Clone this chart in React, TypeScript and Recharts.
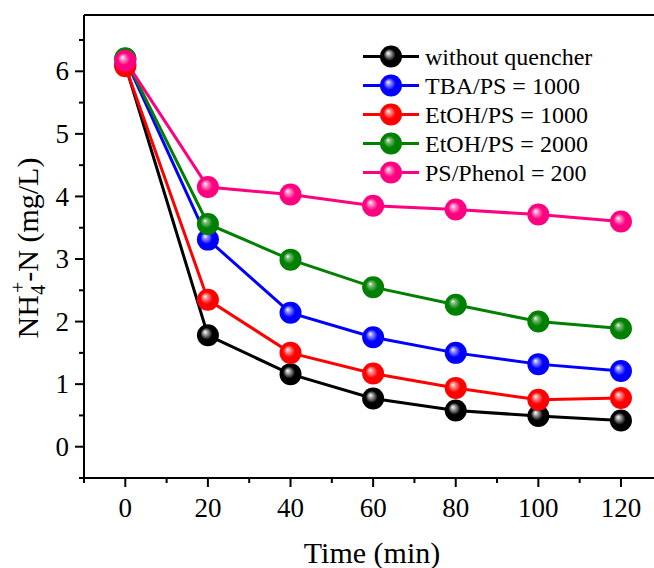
import { LineChart, Line, XAxis, YAxis, ReferenceLine } from 'recharts';

const times = [0, 20, 40, 60, 80, 100, 120];
const withoutQuencher = [6.1, 1.78, 1.16, 0.77, 0.58, 0.49, 0.42];
const tbaPs1000 = [6.2, 3.31, 2.14, 1.75, 1.5, 1.32, 1.21];
const etohPs1000 = [6.08, 2.35, 1.5, 1.17, 0.94, 0.75, 0.78];
const etohPs2000 = [6.21, 3.56, 2.99, 2.55, 2.27, 2.0, 1.89];
const psPhenol200 = [6.17, 4.15, 4.03, 3.85, 3.79, 3.71, 3.6];

const xTicks = [-10, 0, 10, 20, 30, 40, 50, 60, 70, 80, 90, 100, 110, 120];
const yTicks = [-0.5, 0, 0.5, 1, 1.5, 2, 2.5, 3, 3.5, 4, 4.5, 5, 5.5, 6, 6.5];

const series = [
    { key: 'black', name: 'without quencher', color: '#000000', light: '#b0b0b0', values: withoutQuencher },
    { key: 'blue', name: 'TBA/PS = 1000', color: '#0000ff', light: '#9a9aff', values: tbaPs1000 },
    { key: 'red', name: 'EtOH/PS = 1000', color: '#ff0000', light: '#ff9a9a', values: etohPs1000 },
    { key: 'green', name: 'EtOH/PS = 2000', color: '#008000', light: '#80c080', values: etohPs2000 },
    { key: 'pink', name: 'PS/Phenol = 200', color: '#ff0080', light: '#ff9acc', values: psPhenol200 },
];

const data = times.map((t, i) => {
    const row: Record<string, number> = { t };
    series.forEach((s) => {
        row[s.key] = s.values[i];
    });
    return row;
});

const FONT = '"Liberation Serif", "Times New Roman", serif';

function makeDot(key: string) {
    return (props: any) => {
        const { cx, cy, index } = props;
        if (cx == null || cy == null) return <g key={`${key}-${index}`} />;
        return <circle key={`${key}-${index}`} cx={cx} cy={cy} r={11} fill={`url(#grad-${key})`} />;
    };
}

function XTick(props: any) {
    const { x, y, payload } = props;
    const major = payload.value % 20 === 0 && payload.value >= 0;
    return (
        <g>
            <line x1={x} x2={x} y1={y} y2={y + (major ? 9 : 5)} stroke="#000" strokeWidth={2} />
            {major && (
                <text x={x} y={y + 39} textAnchor="middle" fontFamily={FONT} fontSize={27} fill="#000">
                    {payload.value}
                </text>
            )}
        </g>
    );
}

function YTick(props: any) {
    const { x, y, payload } = props;
    const major = Number.isInteger(payload.value);
    return (
        <g>
            <line x1={x - (major ? 9 : 5)} x2={x} y1={y} y2={y} stroke="#000" strokeWidth={2} />
            {major && (
                <text x={x - 15} y={y} dy="0.34em" textAnchor="end" fontFamily={FONT} fontSize={27} fill="#000">
                    {payload.value}
                </text>
            )}
        </g>
    );
}

export default function App() {
    return (
        <div style={{ position: 'absolute', left: 0, top: 0, width: 654, height: 568, background: '#fff' }}>
            <svg width={0} height={0} style={{ position: 'absolute' }}>
                <defs>
                    {series.map((s) => (
                        <radialGradient key={s.key} id={`grad-${s.key}`} cx="50%" cy="50%" r="50%" fx="36%" fy="34%">
                            <stop offset="0%" stopColor="#ffffff" />
                            <stop offset="18%" stopColor={s.light} />
                            <stop offset="55%" stopColor={s.color} />
                            <stop offset="100%" stopColor={s.color} />
                        </radialGradient>
                    ))}
                </defs>
            </svg>
            <LineChart width={654} height={568} data={data} margin={{ top: 15, right: 0, left: 24, bottom: 30 }}>
                <XAxis
                    dataKey="t"
                    type="number"
                    domain={[-10, 128]}
                    ticks={xTicks}
                    height={60}
                    tickSize={0}
                    tickMargin={0}
                    tickLine={false}
                    interval={0}
                    stroke="#000"
                    strokeWidth={2}
                    tick={<XTick />}
                />
                <YAxis
                    type="number"
                    domain={[-0.5, 6.9]}
                    ticks={yTicks}
                    width={60}
                    tickSize={0}
                    tickMargin={0}
                    tickLine={false}
                    interval={0}
                    stroke="#000"
                    strokeWidth={2}
                    tick={<YTick />}
                    allowDataOverflow
                />
                <ReferenceLine y={6.9} stroke="#000" strokeWidth={2} />
                {series.map((s) => (
                    <Line
                        key={s.key}
                        dataKey={s.key}
                        name={s.name}
                        stroke={s.color}
                        strokeWidth={3}
                        dot={makeDot(s.key)}
                        activeDot={false}
                        isAnimationActive={false}
                        type="linear"
                    />
                ))}
            </LineChart>
            <svg
                width={654}
                height={568}
                style={{ position: 'absolute', left: 0, top: 0, pointerEvents: 'none' }}
            >
                {series.map((s, i) => {
                    const cy = 56.5 + i * 29;
                    return (
                        <g key={s.key}>
                            <line x1={363} x2={419} y1={cy} y2={cy} stroke={s.color} strokeWidth={3} />
                            <circle cx={391} cy={cy} r={11} fill={`url(#grad-${s.key})`} />
                            <text x={425} y={cy + 8} fontFamily={FONT} fontSize={24} fill="#000">
                                {s.name}
                            </text>
                        </g>
                    );
                })}
                <text x={372} y={563} textAnchor="middle" fontFamily={FONT} fontSize={30} fill="#000">
                    Time (min)
                </text>
                <text
                    transform="translate(38, 248) rotate(-90)"
                    textAnchor="middle"
                    fontFamily={FONT}
                    fontSize={30}
                    fill="#000"
                >
                    NH
                    <tspan fontSize={20} dy={7}>4</tspan>
                    <tspan fontSize={20} dx={-8} dy={-20}>+</tspan>
                    <tspan dy={13}>-N (mg/L)</tspan>
                </text>
            </svg>
        </div>
    );
}
